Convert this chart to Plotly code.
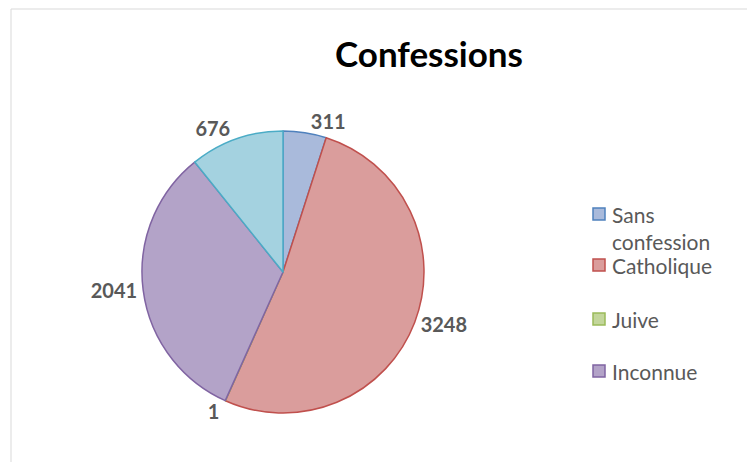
import plotly.graph_objects as go

# Data
categories = ["Sans confession", "Catholique", "Juive", "Inconnue", "Autre"]
values = [311, 3248, 1, 2041, 676]
legend_labels = ["Sans<br>confession", "Catholique", "Juive", "Inconnue"]

fill_colors = ["#A9BADB", "#DA9D9C", "#C3D69B", "#B3A3C8", "#A4D2E0"]
line_colors = ["#4F81BD", "#C0504D", "#9BBB59", "#8064A2", "#4BACC6"]

W, H = 755, 462
OX, OY = 8, 8  # page body offset


def px(x):
    return (x - OX) / W


def py(y):
    return (H - (y - OY)) / H


fig = go.Figure()
fig.add_trace(go.Pie(
    labels=categories,
    values=values,
    sort=False,
    direction="clockwise",
    rotation=0,
    textinfo="value",
    textposition="outside",
    outsidetextfont=dict(family="Lato", size=20, color="#595959", weight="bold"),
    marker=dict(colors=fill_colors, line=dict(color=line_colors, width=1.5)),
    domain=dict(x=[px(142), px(424)], y=[py(413), py(131)]),
    showlegend=False,
    hoverinfo="label+value+percent",
))

shapes = [
    dict(type="rect", xref="paper", yref="paper",
         x0=px(11), x1=1.05, y0=-0.05, y1=py(9),
         line=dict(color="#D9D9D9", width=1), fillcolor="rgba(0,0,0,0)", layer="below"),
]
annotations = []
legend_y = [214, 265, 319, 371]
for lab, col, lc, yy in zip(legend_labels, fill_colors, line_colors, legend_y):
    shapes.append(dict(type="rect", xref="paper", yref="paper",
                       x0=px(593), x1=px(605),
                       y0=py(yy + 6), y1=py(yy - 6),
                       fillcolor=col, line=dict(color=lc, width=1.5)))
    multi = "<br>" in lab
    annotations.append(dict(
        xref="paper", yref="paper", x=px(610),
        y=py(yy - 14) if multi else py(yy),
        text=lab, showarrow=False, xanchor="left",
        yanchor="top" if multi else "middle",
        align="left",
        font=dict(family="Lato", size=21, color="#595959"),
    ))

fig.update_layout(
    width=W, height=H,
    margin=dict(l=0, r=0, t=0, b=0),
    paper_bgcolor="white",
    plot_bgcolor="white",
    title=dict(text="<b>Confessions</b>", x=px(429), y=py(55),
               xanchor="center", yanchor="middle",
               font=dict(family="Lato", size=35, color="#000000")),
    shapes=shapes,
    annotations=annotations,
)

fig.write_html("out.html")
